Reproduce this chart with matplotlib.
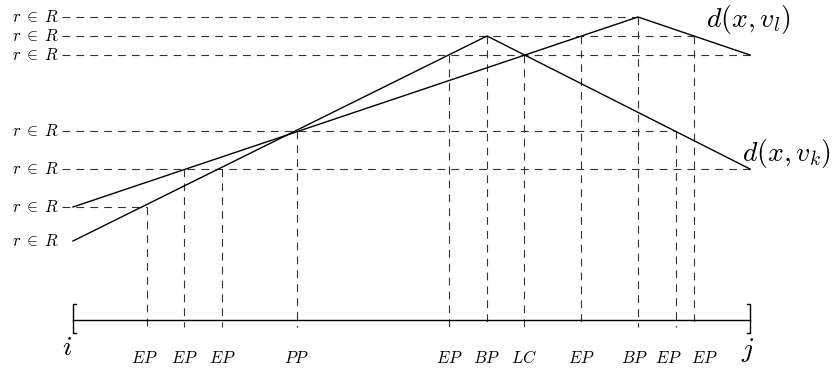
import matplotlib.pyplot as plt

plt.rcParams['mathtext.fontset'] = 'cm'

# interval [i, j] on the x axis, distances on the y axis
x_i, x_j = 73, 750
axis_d = -60

# d(x, v_k) and d(x, v_l) as piecewise linear curves
vk_x = [73, 487, 750]
vk_d = [19, 224, 91]
vl_x = [73, 638, 750]
vl_d = [53, 243, 205]

# distance levels r in R (top to bottom) and where their dashed line ends
levels = [243, 224, 205, 129, 91, 53, 19]
level_end = [638, 694, 750, 676, 750, 147, None]

# events along the interval
ev_x = [147, 184, 222, 297, 449, 487, 524, 581, 638, 676, 694]
ev_d = [53, 91, 91, 129, 205, 224, 205, 224, 243, 129, 224]
ev_lab = ['EP', 'EP', 'EP', 'PP', 'EP', 'BP', 'LC', 'EP', 'BP', 'EP', 'EP']

fig = plt.figure(figsize=(8.34, 3.69), dpi=100)
ax = fig.add_axes([0, 0, 1, 1])
ax.set_xlim(0, 834)
ax.set_ylim(-109, 260)
ax.axis('off')

dash = dict(color='#333333', lw=0.8, dashes=(7, 5.5))

for d, end in zip(levels, level_end):
    ax.text(59, d, r'$r\;\in\;R$', ha='right', va='center', fontsize=12)
    if end is not None:
        ax.plot([62, end], [d, d], **dash)

# the last labels are crowded, nudge them apart like in the sketch
nudge = [-3, 0, 0, 0, 0, 0, 0, 0, -3, -8, 10]
for x, d, lab, dx in zip(ev_x, ev_d, ev_lab, nudge):
    ax.plot([x, x], [d, axis_d - 7], **dash)
    ax.text(x + dx, axis_d - 38, '$' + lab + '$', ha='center', va='center', fontsize=12)

ax.plot(vk_x, vk_d, color='black', lw=1)
ax.plot(vl_x, vl_d, color='black', lw=1)
ax.text(706, 241, r'$d(x,v_l)$', ha='left', va='center', fontsize=20)
ax.text(742, 107, r'$d(x,v_k)$', ha='left', va='center', fontsize=20)

# the interval with brackets
ax.plot([x_i, x_j], [axis_d, axis_d], color='black', lw=1)
ax.plot([x_i + 3, x_i, x_i, x_i + 3], [axis_d + 16, axis_d + 16, axis_d - 13, axis_d - 13], color='black', lw=1)
ax.plot([x_j - 3, x_j, x_j, x_j - 3], [axis_d + 16, axis_d + 16, axis_d - 13, axis_d - 13], color='black', lw=1)
ax.text(67, axis_d - 27, '$i$', ha='center', va='center', fontsize=20)
ax.text(748, axis_d - 30, '$j$', ha='center', va='center', fontsize=20)

plt.savefig('out.png', dpi=100)
